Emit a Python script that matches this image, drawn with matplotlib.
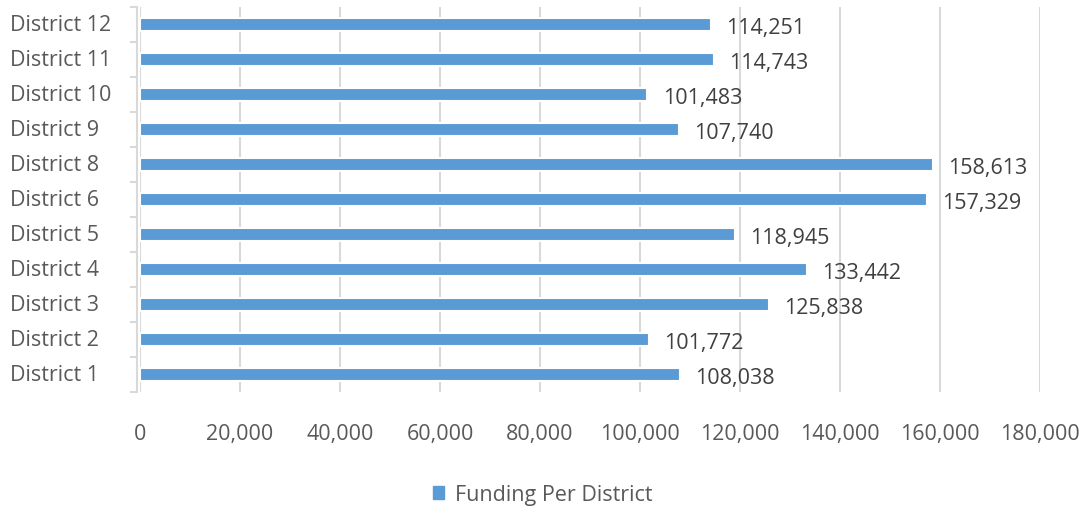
import numpy as np
import matplotlib.pyplot as plt
from matplotlib.patches import Patch

plt.rcParams['font.family'] = ['Open Sans', 'DejaVu Sans']

# data, bottom to top
districts = ['District 1', 'District 2', 'District 3', 'District 4', 'District 5',
             'District 6', 'District 8', 'District 9', 'District 10', 'District 11',
             'District 12']
funding = [108038, 101772, 125838, 133442, 118945, 157329, 158613, 107740,
           101483, 114743, 114251]
x_ticks = [0, 20000, 40000, 60000, 80000, 100000, 120000, 140000, 160000, 180000]

bar_color = '#5B9BD5'
grid_color = '#D9D9D9'
tick_color = '#595959'
label_color = '#404040'

fig = plt.figure(figsize=(10.86, 5.10), dpi=100)
ax = fig.add_axes([0.1289, 0.2294, 0.8287, 0.7546])

y = np.arange(len(districts))
ax.barh(y, funding, height=0.36, color=bar_color, edgecolor='white', linewidth=1.5,
        zorder=3)

# data labels
for yi, v in zip(y, funding):
    ax.annotate(f'{v:,}', xy=(v, yi), xytext=(11, -2), textcoords='offset points',
                ha='left', va='center', fontsize=15.5, color=label_color)

ax.set_xlim(0, 180000)
ax.set_ylim(-0.5, len(districts) - 0.5)
ax.set_xticks(x_ticks)
ax.set_xticklabels([f'{t:,}' for t in x_ticks])
ax.set_yticks(y)
ax.set_yticklabels([])

# category labels, left aligned like the original
for yi, name in zip(y, districts):
    ax.text(-0.1444, yi, name, transform=ax.get_yaxis_transform(),
            ha='left', va='center', fontsize=15.5, color=tick_color)

ax.grid(axis='x', color=grid_color, linewidth=1.5, zorder=0)
ax.set_axisbelow(True)

for s in ['top', 'right', 'bottom']:
    ax.spines[s].set_visible(False)
ax.spines['left'].set_color(grid_color)
ax.spines['left'].set_linewidth(1.5)
ax.spines['left'].set_position(('outward', 2))

ax.tick_params(axis='x', length=0, pad=22, labelsize=15.5, labelcolor=tick_color)
ax.tick_params(axis='y', which='major', length=0)
ax.set_yticks(np.arange(-0.5, len(districts), 1), minor=True)
ax.tick_params(axis='y', which='minor', length=5, width=1.5, color=grid_color)

leg = fig.legend(handles=[Patch(color=bar_color, label='Funding Per District')],
                 loc='center', bbox_to_anchor=(0.5, 0.028), frameon=False,
                 fontsize=15.5, handlelength=0.5, handleheight=0.5, handletextpad=0.5)
for t in leg.get_texts():
    t.set_color(tick_color)

fig.savefig('out.png', dpi=100)
